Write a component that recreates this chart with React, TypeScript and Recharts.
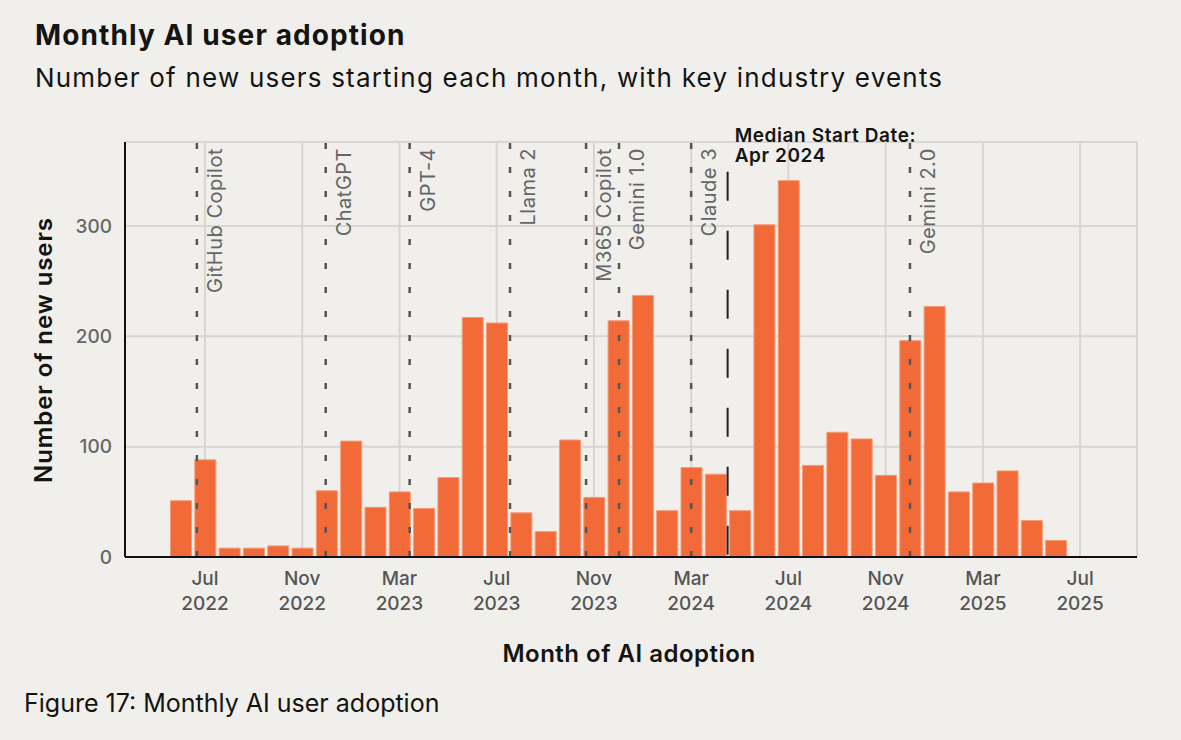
import React from 'react';
import {
  ComposedChart,
  Bar,
  XAxis,
  YAxis,
  CartesianGrid,
  ReferenceLine,
} from 'recharts';

// monthly new users, Jun 2022 .. Jun 2025
const months = [
  '2022-06', '2022-07', '2022-08', '2022-09', '2022-10', '2022-11',
  '2022-12', '2023-01', '2023-02', '2023-03', '2023-04', '2023-05',
  '2023-06', '2023-07', '2023-08', '2023-09', '2023-10', '2023-11',
  '2023-12', '2024-01', '2024-02', '2024-03', '2024-04', '2024-05',
  '2024-06', '2024-07', '2024-08', '2024-09', '2024-10', '2024-11',
  '2024-12', '2025-01', '2025-02', '2025-03', '2025-04', '2025-05',
  '2025-06',
];
const newUsers = [
  51, 88, 8, 8, 10, 8,
  60, 105, 45, 59, 44, 72,
  217, 212, 40, 23, 106, 54,
  214, 237, 42, 81, 75, 42,
  301, 341, 83, 113, 107, 74,
  196, 227, 59, 67, 78, 33,
  15,
];

const tickMonths = [
  '2022-07', '2022-11', '2023-03', '2023-07', '2023-11',
  '2024-03', '2024-07', '2024-11', '2025-03', '2025-07',
];
const tickLabels = [
  'Jul 2022', 'Nov 2022', 'Mar 2023', 'Jul 2023', 'Nov 2023',
  'Mar 2024', 'Jul 2024', 'Nov 2024', 'Mar 2025', 'Jul 2025',
];
const yTicks = [0, 100, 200, 300];

const eventNames = [
  'GitHub Copilot', 'ChatGPT', 'GPT-4', 'Llama 2', 'M365 Copilot',
  'Gemini 1.0', 'Claude 3', 'Gemini 2.0',
];
const eventDates = [
  '2022-06-21', '2022-11-30', '2023-03-14', '2023-07-18', '2023-10-22',
  '2023-12-02', '2024-03-01', '2024-12-01',
];
const medianDate = '2024-04-16';
const medianLines = ['Median Start Date:', 'Apr 2024'];

const FONT = 'Inter, "Noto Sans", sans-serif';
const BG = '#f0efeb';
const ORANGE = '#f26a38';

// months since Jun 2022 (bar centres sit on the 1st of each month)
function monthIndex(s: string) {
  const [y, m, d] = s.split('-').map(Number);
  let idx = (y - 2022) * 12 + (m - 6);
  if (d) {
    const days = new Date(y, m, 0).getDate();
    idx += (d - 1) / days;
  }
  return idx;
}

const data = months.map((m, i) => ({ idx: monthIndex(m), users: newUsers[i] }));
const xTicks = tickMonths.map(monthIndex);

function XTick(props: any) {
  const { x, y, payload } = props;
  const i = xTicks.indexOf(payload.value);
  const [mon, yr] = (tickLabels[i] || '').split(' ');
  return (
    <text x={x} y={y} textAnchor="middle" fill="#555" fontSize={19} fontWeight={500} fontFamily={FONT}>
      <tspan x={x} dy={28}>{mon}</tspan>
      <tspan x={x} dy={25}>{yr}</tspan>
    </text>
  );
}

function eventLabel(name: string) {
  return (p: any) => {
    const vb = p.viewBox || {};
    const x = vb.x + 18;
    const y = 148;
    return (
      <text
        transform={`translate(${x},${y}) rotate(-90)`}
        textAnchor="end"
        dy="0.35em"
        fill="#666"
        fontSize={20}
        letterSpacing={0.5}
        fontFamily={FONT}
      >
        {name}
      </text>
    );
  };
}

function medianLabel(p: any) {
  const vb = p.viewBox || {};
  const x = vb.x + 7;
  return (
    <text x={x} y={142} fill="#141413" fontSize={19} fontWeight={600} letterSpacing={0.6} fontFamily={FONT}>
      <tspan x={x} y={142}>{medianLines[0]}</tspan>
      <tspan x={x} y={162}>{medianLines[1]}</tspan>
    </text>
  );
}

export default function App() {
  return (
    <div style={{ position: 'relative', width: 1181, height: 740, background: BG }}>
      <style>{`body{margin:0;background:${BG};}`}</style>
      <ComposedChart
        width={1181}
        height={740}
        data={data}
        margin={{ top: 142, right: 44, bottom: 123, left: 60 }}
      >
        <CartesianGrid stroke="#d7d6d2" strokeWidth={2} />
        <XAxis
          dataKey="idx"
          type="number"
          domain={[-2.29, 39.34]}
          ticks={xTicks}
          allowDataOverflow
          height={60}
          axisLine={{ stroke: '#111', strokeWidth: 2 }}
          tickLine={false}
          tickSize={0}
          tickMargin={0}
          tick={<XTick />}
          interval={0}
        />
        <YAxis
          type="number"
          domain={[0, 376]}
          ticks={yTicks}
          width={65}
          axisLine={{ stroke: '#111', strokeWidth: 2 }}
          tickLine={false}
          tickSize={0}
          tickMargin={13}
          tick={{ fill: '#666', fontSize: 19, fontWeight: 500, fontFamily: FONT }}
        />
        <Bar
          dataKey="users"
          fill={ORANGE}
          stroke="#f59b77"
          strokeWidth={1}
          barSize={21}
          isAnimationActive={false}
        />
        {eventNames.map((name, i) => (
          <ReferenceLine
            key={name}
            x={monthIndex(eventDates[i])}
            stroke="#555"
            strokeWidth={2.5}
            strokeDasharray="6 18"
            label={eventLabel(name)}
          />
        ))}
        <ReferenceLine
          segment={[
            { x: monthIndex(medianDate), y: 349 },
            { x: monthIndex(medianDate), y: 0 },
          ]}
          stroke="#222"
          strokeWidth={2}
          strokeDasharray="29 30"
          label={medianLabel}
        />
      </ComposedChart>
      <svg
        width={1181}
        height={740}
        style={{ position: 'absolute', left: 0, top: 0, pointerEvents: 'none' }}
        fontFamily={FONT}
      >
        <text x={35} y={45} fontSize={28} fontWeight={700} letterSpacing={1.1} fill="#141413">
          Monthly AI user adoption
        </text>
        <text x={35} y={87} fontSize={26} letterSpacing={1.2} fill="#141413">
          Number of new users starting each month, with key industry events
        </text>
        <text
          transform="translate(52,350) rotate(-90)"
          textAnchor="middle"
          fontSize={24}
          fontWeight={600}
          letterSpacing={0.9}
          fill="#141413"
        >
          Number of new users
        </text>
        <text
          x={629}
          y={662}
          textAnchor="middle"
          fontSize={24}
          fontWeight={600}
          letterSpacing={0.5}
          fill="#141413"
        >
          Month of AI adoption
        </text>
        <text x={24} y={712} fontSize={25} fill="#141413">
          Figure 17: Monthly AI user adoption
        </text>
      </svg>
    </div>
  );
}
